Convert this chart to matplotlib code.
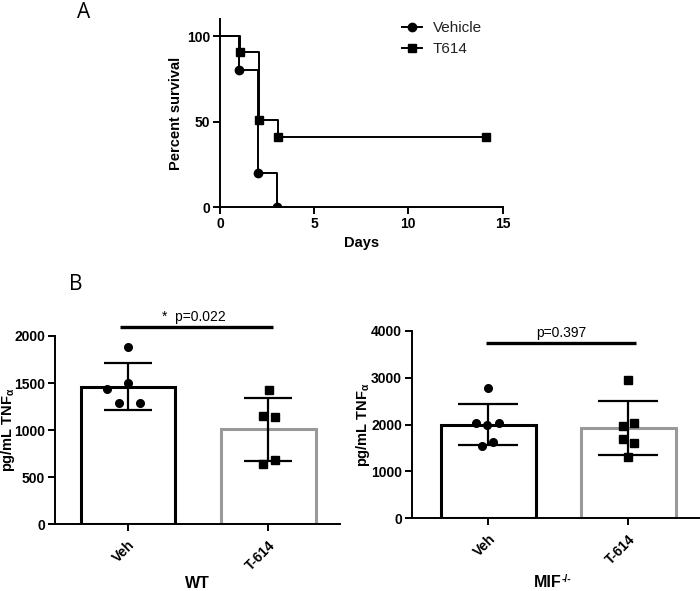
import matplotlib
matplotlib.use("Agg")
import matplotlib.pyplot as plt
import numpy as np

plt.rcParams['font.family'] = ['Liberation Sans', 'DejaVu Sans']
plt.rcParams['mathtext.fontset'] = 'custom'
plt.rcParams['mathtext.rm'] = 'Liberation Sans'
plt.rcParams['mathtext.it'] = 'Liberation Sans:italic'
plt.rcParams['mathtext.bf'] = 'Liberation Sans:bold'

# ---------------- data ----------------
# Panel A: Kaplan-Meier survival
veh_days = [0, 1, 2, 3]
veh_surv = [100, 80, 20, 0]
t614_days = [0, 1.08, 2.08, 3.08, 14.1]
t614_surv = [100, 91, 51, 41, 41]

# Panel B: TNF-alpha
groups = ['Veh', 'T-614']
wt_mean = [1462, 1009]
wt_sd = [250, 335]
wt_veh_pts = [1880, 1497, 1437, 1285, 1292]
wt_veh_jit = [0, 0, -0.15, -0.064, 0.083]
wt_t614_pts = [1427, 1154, 1143, 641, 683]
wt_t614_jit = [0.005, -0.038, 0.045, -0.038, 0.045]

mif_mean = [2003, 1928]
mif_sd = [430, 570]
mif_veh_pts = [2776, 2043, 1993, 2043, 1552, 1637]
mif_veh_jit = [0, -0.088, -0.007, 0.076, -0.048, 0.036]
mif_t614_pts = [2954, 1979, 2028, 1687, 1616, 1302]
mif_t614_jit = [0, -0.04, 0.043, -0.04, 0.043, 0]

wt_p = '*  p=0.022'
mif_p = 'p=0.397'

GRAY = '#999999'
SPW = 1.4
TICKFS = 10

fig = plt.figure(figsize=(7, 5.91), dpi=100)

def style_axes(ax):
    for s in ['top', 'right']:
        ax.spines[s].set_visible(False)
    for s in ['left', 'bottom']:
        ax.spines[s].set_linewidth(SPW)
    ax.tick_params(direction='out', length=5, width=SPW, labelsize=TICKFS, pad=2)
    for lab in ax.get_xticklabels() + ax.get_yticklabels():
        lab.set_fontweight('bold')

# ---------------- Panel A ----------------
axA = fig.add_axes([220/700, 1-207.3/591, 282.5/700, 188.3/591])
axA.step(veh_days, veh_surv, where='post', color='black', lw=1.4)
axA.plot(veh_days[1:], veh_surv[1:], 'o', color='black', ms=6, ls='none')
axA.step(t614_days, t614_surv, where='post', color='black', lw=1.4)
axA.plot(t614_days[1:], t614_surv[1:], 's', color='black', ms=6, ls='none')
axA.plot([], [], 'o-', color='black', ms=6, lw=1.4, label='Vehicle')
axA.plot([], [], 's-', color='black', ms=6, lw=1.4, label='T614')
axA.set_xlim(0, 15)
axA.set_ylim(0, 110)
axA.set_xticks([0, 5, 10, 15])
axA.set_yticks([0, 50, 100])
style_axes(axA)
axA.set_xlabel('Days', fontsize=10.5, fontweight='bold')
axA.xaxis.set_label_coords(0.5, -0.152)
axA.set_ylabel('Percent survival', fontsize=10.5, fontweight='bold')
axA.yaxis.set_label_coords(-0.131, 0.5)
handles, labels = axA.get_legend_handles_labels()
axA.legend(handles[-2:], labels[-2:], loc='upper left',
           bbox_to_anchor=(402/700, 1-21/591), bbox_transform=fig.transFigure,
           frameon=False, fontsize=11, handlelength=1.3, handletextpad=0.7,
           labelspacing=0.45, borderpad=0, borderaxespad=0)
for t in axA.get_legend().get_texts():
    t.set_color('#222222')

fig.text(84/700, 1-12/591, 'A', fontsize=15, family='Open Sans',
         ha='center', va='center')
fig.text(76/700, 1-284/591, 'B', fontsize=15, family='Open Sans',
         ha='center', va='center')

# ---------------- Panel B ----------------
def bar_panel(ax, means, sds, pts, jits, markers, capsize, ylim, yticks,
              xlim, ptext, pbar_y, ptext_x, ptext_y, pbar_x):
    x = np.arange(len(groups))
    ax.bar(x, means, width=0.675, color='white',
           edgecolor=['black', GRAY], linewidth=2.2, zorder=1)
    for xi, p, j, m in zip(x, pts, jits, markers):
        ax.plot(xi + np.array(j), p, m, color='black', ms=5.5, ls='none',
                zorder=3, clip_on=False)
    ax.errorbar(x, means, yerr=sds, fmt='none', ecolor='black',
                elinewidth=1.6, capsize=capsize, capthick=1.6, zorder=2)
    ax.set_xlim(*xlim)
    ax.set_ylim(*ylim)
    ax.set_yticks(yticks)
    ax.set_xticks(x)
    ax.set_xticklabels(groups, rotation=45, ha='right', rotation_mode='anchor')
    style_axes(ax)
    ax.tick_params(axis='x', pad=5)
    ax.plot(pbar_x, [pbar_y, pbar_y], color='black', lw=2.4, clip_on=False,
            solid_capstyle='butt')
    ax.text(ptext_x, ptext_y, ptext, ha='center', va='bottom', fontsize=10)
    ax.set_ylabel(r'pg/mL TNF$_{\mathregular{\alpha}}$', fontsize=10.5,
                  fontweight='bold')

axL = fig.add_axes([55/700, 1-524.3/591, 285/700, 188.3/591])
bar_panel(axL, wt_mean, wt_sd, [wt_veh_pts, wt_t614_pts],
          [wt_veh_jit, wt_t614_jit], ['o', 's'], 17,
          (0, 2000), [0, 500, 1000, 1500, 2000], (-0.52, 1.51),
          wt_p, 2092, 0.466, 2130, [-0.054, 1.03])
axL.yaxis.set_label_coords(-0.133, 0.5)
axL.set_xlabel('WT', fontsize=11.5, fontweight='bold')
axL.xaxis.set_label_coords(0.5, -0.275)

axR = fig.add_axes([411.7/700, 1-518.3/591, 287.6/700, 187.3/591])
bar_panel(axR, mif_mean, mif_sd, [mif_veh_pts, mif_t614_pts],
          [mif_veh_jit, mif_t614_jit], ['o', 's'], 21.5,
          (0, 4000), [0, 1000, 2000, 3000, 4000], (-0.547, 1.507),
          mif_p, 3737, 0.52, 3800, [-0.016, 1.054])
axR.yaxis.set_label_coords(-0.137, 0.5)
# x label "MIF" with a small "-/-" superscript (plain hyphens)
axR.text(0.52, -0.305, 'MIF', transform=axR.transAxes, ha='right', va='top',
         fontsize=11.5, fontweight='bold')
axR.text(0.522, -0.298, '-/-', transform=axR.transAxes, ha='left', va='top',
         fontsize=7.5, fontweight='bold')

fig.savefig('out.png', dpi=100)
